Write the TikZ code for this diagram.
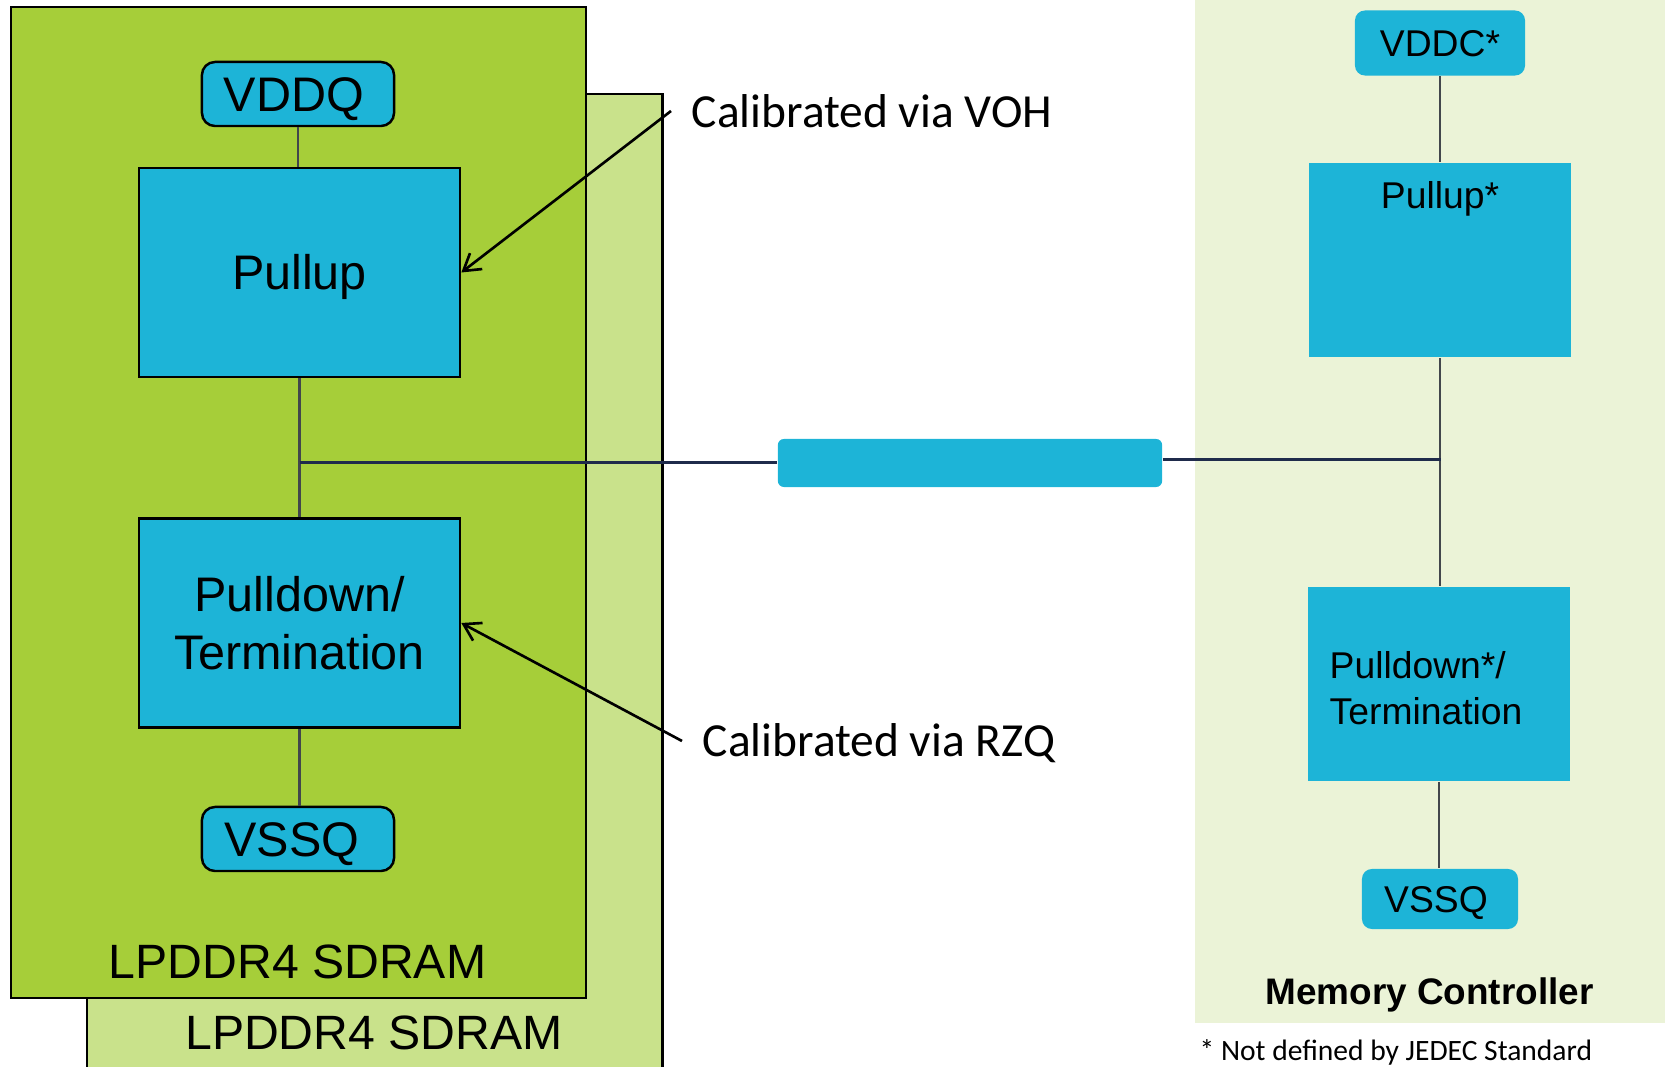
\documentclass[tikz,border=0pt]{standalone}
\usepackage{fontspec}
\setmainfont{Liberation Sans}
\newfontfamily\notefont{Carlito}
\usetikzlibrary{arrows.meta}

\definecolor{chipgreen}{HTML}{A6CE39}
\definecolor{chipback}{HTML}{C9E28B}
\definecolor{ctrlbg}{HTML}{EBF3D7}
\definecolor{cellblue}{HTML}{1DB4D7}
\definecolor{wiregray}{HTML}{42464C}
\definecolor{wirenavy}{HTML}{1F2B4B}

\tikzset{
  dramcell/.style={draw=black, line width=0.7pt, fill=cellblue, inner sep=0pt,
    minimum width=3.21cm, minimum height=2.09cm,
    font=\fontsize{13.8}{16.6}\selectfont},
  drampad/.style={draw=black, line width=0.7pt, fill=cellblue, inner sep=0pt,
    rounded corners=1.3mm, minimum width=1.92cm, minimum height=0.64cm,
    text height=0.345cm, text depth=0pt,
    font=\fontsize{13.8}{16.6}\selectfont},
  ctrlcell/.style={fill=cellblue, inner sep=0pt,
    minimum width=2.62cm, minimum height=1.94cm},
  ctrltext/.style={inner sep=0pt, font=\fontsize{10.6}{12.9}\selectfont},
  ctrlpad/.style={fill=cellblue, inner sep=0pt, rounded corners=1mm,
    text height=0.267cm, text depth=0pt,
    font=\fontsize{10.6}{12.9}\selectfont},
  chiplabel/.style={inner sep=0pt, anchor=base, font=\fontsize{13.7}{16.4}\selectfont},
  wire/.style={draw=wiregray, line width=0.85pt},
  bus/.style={draw=wirenavy, line width=0.85pt},
  callout/.style={draw=black, line width=0.75pt, -{Straight Barb[length=4.6pt,width=5.7pt]}},
  calloutlabel/.style={inner sep=0pt, anchor=base west, font=\notefont\fontsize{13.5}{16.2}\selectfont},
}

\begin{document}
\begin{tikzpicture}[x=0.01cm, y=-0.01cm]
  \useasboundingbox (0,0) rectangle (1665,1067);
  \clip (0,0) rectangle (1665,1067);

  % second die behind, then the front die
  \draw[fill=chipback, line width=0.6pt] (87,94) rectangle (662.5,1090);
  \draw[fill=chipgreen, line width=0.6pt] (10.6,7.4) rectangle (586,998);
  % controller area
  \fill[ctrlbg] (1195,-10) rectangle (1680,1022.6);

  \node[chiplabel] (backname) at (374,1050) {LPDDR4 SDRAM};
  \node[chiplabel] (frontname) at (297.5,979) {LPDDR4 SDRAM};

  % DRAM output driver
  \node[drampad] (vddq) at (298,94) {VDDQ\rule{0.08cm}{0pt}};
  \node[dramcell, text height=0.345cm, text depth=0pt] (pu) at (299.5,272.5) {Pullup};
  \node[dramcell, align=center] (pd) at (299.5,623) {Pulldown/\\Termination};
  \node[drampad] (vssq) at (298,839) {VSSQ\rule{0.12cm}{0pt}};

  % transmission line
  \node[fill=cellblue, rounded corners=0.6mm, inner sep=0pt,
        minimum width=3.84cm, minimum height=0.48cm] (tl) at (970,463) {};

  % controller driver
  \node[ctrlpad, minimum width=1.70cm, minimum height=0.65cm] (vddc) at (1440,43) {VDDC*};
  \node[ctrlcell] (pu2) at (1440,260) {};
  \node[ctrltext, anchor=base] (pu2name) at (1440,209) {Pullup*};
  \node[ctrlcell] (pd2) at (1439,684) {};
  \node[ctrltext, anchor=north west, align=left] (pd2name) at (1329,651) {Pulldown*/\\Termination};
  \node[ctrlpad, minimum width=1.56cm, minimum height=0.60cm] (vssq2) at (1440,899) {VSSQ\rule{0.08cm}{0pt}};
  \node[inner sep=0pt, anchor=base, font=\bfseries\fontsize{10.5}{12.6}\selectfont] (ctrlname) at (1429.5,1004.5) {Memory Controller};
  \node[inner sep=0pt, anchor=base west, font=\notefont\fontsize{8.4}{10}\selectfont] (note) at (1199,1061) {* Not defined by JEDEC Standard};

  % wiring on the DRAM side
  \draw[wire] (vddq.south) -- (vddq.south |- pu.north);
  \draw[wire] (pu.south) -- (pd.north);
  \draw[wire] (pd.south) -- (pd.south |- vssq.north);
  \coordinate (jl) at (pu.south |- tl.west);
  \draw[bus] (jl) -- (tl.west);

  % wiring on the controller side
  \draw[wire] (vddc.south) -- (vddc.south |- pu2.north);
  \draw[wire] (pu2.south) -- (pu2.south |- pd2.north);
  \draw[wire] (pd2.south) -- (pd2.south |- vssq2.north);
  \coordinate (jr) at (1441,460);
  \draw[bus] (tl.east |- jr) -- (jr);

  % calibration notes
  \node[calloutlabel] (voh) at (691,128) {Calibrated via VOH};
  \node[calloutlabel] (rzq) at (702,757) {Calibrated via RZQ};
  \coordinate (vohtail) at (671,111);
  \coordinate (rzqtail) at (682,741);
  \draw[callout] (vohtail) -- (pu.east);
  \draw[callout] (rzqtail) -- (pd.east);
\end{tikzpicture}
\end{document}
